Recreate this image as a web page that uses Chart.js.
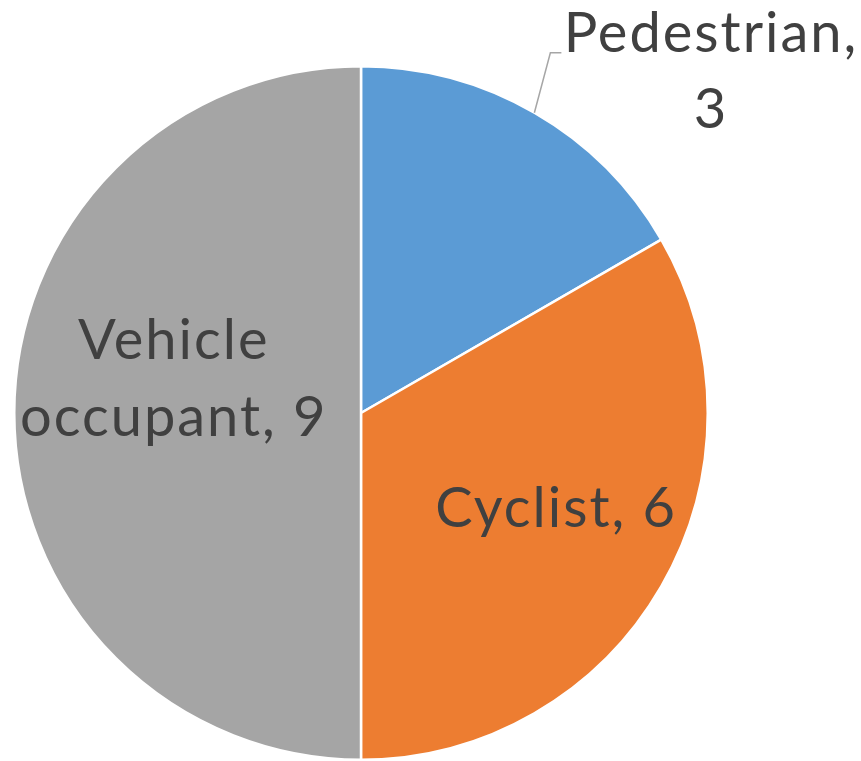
<!DOCTYPE html>
<html>
<head>
<meta charset="utf-8">
<script src="https://cdn.jsdelivr.net/npm/chart.js@4"></script>
<style>
  body { margin: 0; background: #fff; }
</style>
</head>
<body>
<canvas id="myChart" width="861" height="761"></canvas>
<script>
(() => {
  'use strict'
  const categories = ['Pedestrian', 'Cyclist', 'Vehicle occupant']
  const values = [3, 6, 9]
  const colors = ['#5b9bd5', '#ed7d31', '#a5a5a5']

  const FONT = '56px Lato'
  const TEXT = '#404040'

  // labels drawn after the arcs, positioned from each arc
  const pieLabels = {
    id: 'pieLabels',
    afterDatasetsDraw(chart) {
      const ctx = chart.ctx
      const arcs = chart.getDatasetMeta(0).data
      ctx.save()
      ctx.font = FONT
      ctx.letterSpacing = '2px'
      ctx.fillStyle = TEXT
      ctx.textAlign = 'center'
      ctx.textBaseline = 'alphabetic'
      arcs.forEach((arc, i) => {
        const mid = (arc.startAngle + arc.endAngle) / 2
        const r = arc.outerRadius
        const label = categories[i]
        const v = values[i]
        if (i === 0) {
          // outside label with leader line
          const ex = arc.x + Math.cos(mid) * r
          const ey = arc.y + Math.sin(mid) * r
          ctx.strokeStyle = '#a6a6a6'
          ctx.lineWidth = 1.5
          ctx.beginPath()
          ctx.moveTo(ex, ey)
          ctx.lineTo(ex + 16, ey - 60)
          ctx.lineTo(ex + 27, ey - 60)
          ctx.stroke()
          ctx.fillText(label + ',', 711, 52)
          ctx.fillText(String(v), 711, 128)
        } else if (i === 1) {
          const x = arc.x + Math.cos(mid) * r * 0.65
          const y = arc.y + Math.sin(mid) * r * 0.65
          ctx.fillText(label + ', ' + v, x, y + 1)
        } else {
          const x = arc.x + Math.cos(mid) * r * 0.54
          const y = arc.y + Math.sin(mid) * r * 0.54
          const parts = label.split(' ')
          ctx.fillText(parts[0], x, y - 54)
          ctx.fillText(parts[1] + ', ' + v, x, y + 23)
        }
      })
      ctx.restore()
    }
  }

  const ctx = document.getElementById('myChart')
  // eslint-disable-next-line no-unused-vars
  const myChart = new Chart(ctx, {
    type: 'pie',
    data: {
      labels: categories,
      datasets: [{
        data: values,
        backgroundColor: colors,
        borderColor: '#ffffff',
        borderWidth: 2.5
      }]
    },
    options: {
      responsive: false,
      animation: false,
      layout: {
        padding: { left: 12, right: 151, top: 65, bottom: 0 }
      },
      plugins: {
        legend: { display: false },
        tooltip: { enabled: false }
      }
    },
    plugins: [pieLabels]
  })
})()
</script>
</body>
</html>
